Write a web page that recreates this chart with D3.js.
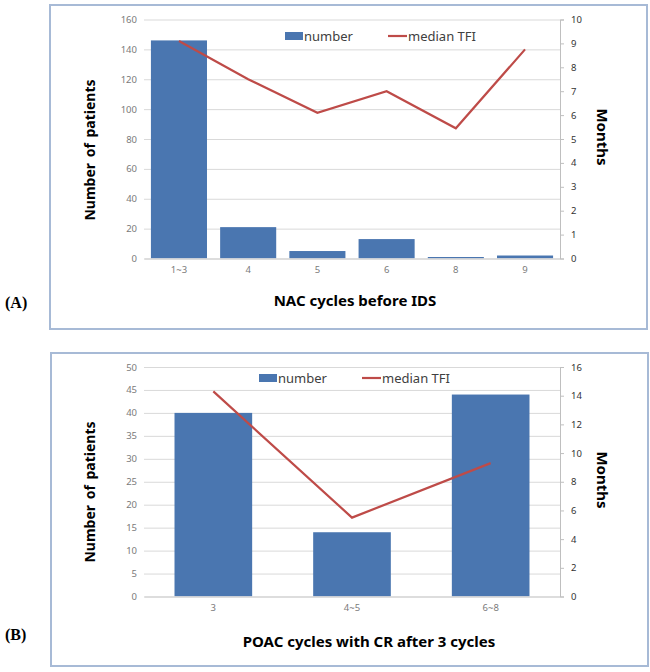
<!DOCTYPE html>
<html><head><meta charset="utf-8">
<script src="https://cdn.jsdelivr.net/npm/d3@7"></script>
<style>body{margin:0;background:#fff;} svg{display:block;}</style>
</head><body>
<svg id="chart" width="650" height="672"></svg>
<script>
// ---- Data ----
const catsA = ["1~3", "4", "5", "6", "8", "9"];
const numbersA = [146, 21, 5, 13, 1, 2];
const tfiA = [9.1, 7.5, 6.1, 7.0, 5.45, 8.75];
const leftTicksA = [0, 20, 40, 60, 80, 100, 120, 140, 160];
const rightTicksA = [0, 1, 2, 3, 4, 5, 6, 7, 8, 9, 10];

const catsB = ["3", "4~5", "6~8"];
const numbersB = [40, 14, 44];
const tfiB = [14.3, 5.5, 9.3];
const leftTicksB = [0, 5, 10, 15, 20, 25, 30, 35, 40, 45, 50];
const rightTicksB = [0, 2, 4, 6, 8, 10, 12, 14, 16];

const legendLabels = ["number", "median TFI"];

const BLUE = "#4a76b0", RED = "#be4b48", GRID = "#d9d9d9";
const svg = d3.select("#chart");

function panel(cfg) {
  // frame
  svg.append("rect").attr("x", cfg.box[0]).attr("y", cfg.box[1])
    .attr("width", cfg.box[2]).attr("height", cfg.box[3])
    .attr("fill", "#fff").attr("stroke", "#a7bad6").attr("stroke-width", 2);
  // panel letter
  svg.append("text").attr("x", 5).attr("y", cfg.letterY)
    .attr("font-family", "Liberation Serif").attr("font-weight", "bold")
    .attr("font-size", 16).attr("fill", "#000").text(cfg.letter);

  const x = d3.scaleBand().domain(cfg.cats).range([144, 560])
    .paddingInner(cfg.padIn).paddingOuter(cfg.padOut);
  const yL = d3.scaleLinear().domain([0, d3.max(cfg.leftTicks)]).range([cfg.y0, cfg.y1]);
  const yR = d3.scaleLinear().domain([0, d3.max(cfg.rightTicks)]).range([cfg.y0, cfg.y1]);
  const g = svg.append("g");

  // gridlines
  const grid = g.append("g").attr("transform", "translate(144,0)")
    .call(d3.axisLeft(yL).tickValues(cfg.leftTicks).tickSize(-416).tickFormat(""));
  grid.select(".domain").remove();
  grid.selectAll("line").attr("stroke", GRID);

  // left tick labels
  const la = g.append("g").attr("transform", "translate(144,0)")
    .call(d3.axisLeft(yL).tickValues(cfg.leftTicks).tickSize(0).tickPadding(7));
  la.select(".domain").remove();
  la.selectAll("text").attr("font-family", "Noto Sans").attr("font-size", 9.5).attr("fill", "#7a7a7a");

  // bars
  g.selectAll(".bar").data(cfg.numbers).enter().append("rect")
    .attr("x", (d, i) => x(cfg.cats[i])).attr("width", x.bandwidth())
    .attr("y", d => yL(d)).attr("height", d => cfg.y0 - yL(d))
    .attr("fill", BLUE);

  // bottom axis
  const ba = g.append("g").attr("transform", `translate(0,${cfg.y0})`)
    .call(d3.axisBottom(x).tickSize(0).tickPadding(cfg.catPad));
  ba.select(".domain").attr("stroke", GRID).attr("stroke-width", 1.5);
  ba.selectAll("text").attr("font-family", "Noto Sans").attr("font-size", 9.5).attr("fill", "#7a7a7a");

  // right axis
  const ra = g.append("g").attr("transform", "translate(560,0)")
    .call(d3.axisRight(yR).tickValues(cfg.rightTicks).tickSize(4).tickPadding(7));
  ra.select(".domain").attr("stroke", "#bfbfbf");
  ra.selectAll("line").attr("stroke", "#bfbfbf");
  ra.selectAll("text").attr("font-family", "Noto Sans").attr("font-size", 9.5).attr("fill", "#333");

  // line
  const line = d3.line().x((d, i) => x(cfg.cats[i]) + x.bandwidth() / 2).y(d => yR(d));
  g.append("path").datum(cfg.tfi).attr("d", line)
    .attr("fill", "none").attr("stroke", RED).attr("stroke-width", 2.2);

  // legend
  const lg = g.append("g");
  lg.append("rect").attr("x", cfg.leg[0]).attr("y", cfg.legY - 4).attr("width", 18).attr("height", 8).attr("fill", BLUE);
  lg.append("text").attr("x", cfg.leg[0] + 19).attr("y", cfg.legY).attr("dy", "0.35em")
    .attr("font-family", "Noto Sans").attr("font-size", 13).attr("fill", "#404040").text(legendLabels[0]);
  lg.append("line").attr("x1", cfg.leg[1]).attr("x2", cfg.leg[1] + 19)
    .attr("y1", cfg.legY).attr("y2", cfg.legY).attr("stroke", RED).attr("stroke-width", 2.2);
  lg.append("text").attr("x", cfg.leg[1] + 20).attr("y", cfg.legY).attr("dy", "0.35em")
    .attr("font-family", "Noto Sans").attr("font-size", 13).attr("fill", "#404040").text(legendLabels[1]);

  // axis titles
  g.append("text").attr("transform", `translate(95,${cfg.leftTitleY}) rotate(-90)`)
    .attr("text-anchor", "middle").attr("font-family", "Noto Sans").attr("font-weight", "bold")
    .attr("font-size", 14).attr("word-spacing", 2).attr("fill", "#000").text("Number of patients");
  g.append("text").attr("transform", `translate(597,${cfg.rightTitleY}) rotate(90)`)
    .attr("text-anchor", "middle").attr("font-family", "Noto Sans").attr("font-weight", "bold")
    .attr("font-size", 15).attr("fill", "#000").text("Months");
  g.append("text").attr("x", cfg.xTitleX).attr("y", cfg.xTitleY).attr("dy", "0.35em")
    .attr("text-anchor", "middle").attr("font-family", "Noto Sans").attr("font-weight", "bold")
    .attr("font-size", 15).attr("fill", "#000").text(cfg.xTitle);
}

panel({
  box: [50, 5, 597, 324], letter: "(A)", letterY: 308,
  cats: catsA, numbers: numbersA, tfi: tfiA, leftTicks: leftTicksA, rightTicks: rightTicksA,
  y0: 258.5, y1: 19.5, padIn: 0.19, padOut: 0.1, catPad: 8,
  leg: [285, 388], legY: 36, leftTitleY: 150, rightTitleY: 137,
  xTitle: "NAC cycles before IDS", xTitleX: 355, xTitleY: 301
});

panel({
  box: [51, 353, 597, 313], letter: "(B)", letterY: 640,
  cats: catsB, numbers: numbersB, tfi: tfiB, leftTicks: leftTicksB, rightTicks: rightTicksB,
  y0: 596.5, y1: 367, padIn: 0.44, padOut: 0.22, catPad: 8,
  leg: [259, 362], legY: 378, leftTitleY: 492, rightTitleY: 480,
  xTitle: "POAC cycles with CR after 3 cycles", xTitleX: 369, xTitleY: 642
});
</script>
</body></html>
